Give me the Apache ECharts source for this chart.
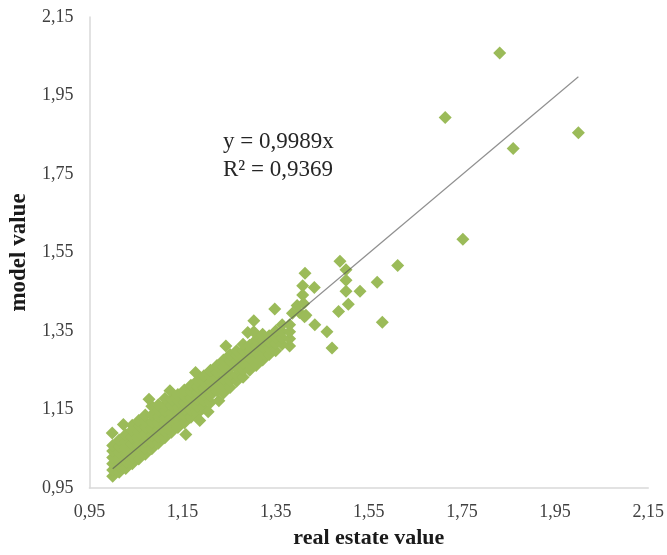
<!DOCTYPE html>
<html>
<head>
<meta charset="utf-8">
<script src="https://cdn.jsdelivr.net/npm/echarts@6/dist/echarts.min.js"></script>
<style>html,body{margin:0;padding:0;background:#fff}#c{width:667px;height:555px}</style>
</head>
<body>
<div id="c"></div>
<script>
// Dense cloud of observations (real estate value, model value)
const cloudPoints = [
[1.000,0.980],[1.000,0.996],[1.000,1.012],[1.000,1.028],[1.000,1.044],[1.000,1.058],[0.999,1.090],
[1.014,0.990],[1.014,1.006],[1.014,1.022],[1.014,1.040],[1.014,1.056],[1.014,1.072],
[1.028,1.000],[1.028,1.016],[1.028,1.034],[1.028,1.050],[1.028,1.068],[1.028,1.086],[1.023,1.112],
[1.042,1.012],[1.042,1.028],[1.042,1.046],[1.042,1.062],[1.042,1.080],[1.042,1.098],[1.042,1.110],
[1.056,1.024],[1.056,1.040],[1.056,1.058],[1.056,1.074],[1.056,1.092],[1.056,1.108],[1.056,1.122],
[1.070,1.036],[1.070,1.052],[1.070,1.070],[1.070,1.088],[1.070,1.104],[1.070,1.120],[1.070,1.136],
[1.084,1.050],[1.084,1.066],[1.084,1.084],[1.084,1.100],[1.084,1.118],[1.084,1.136],[1.084,1.158],[1.078,1.176],
[1.098,1.064],[1.098,1.080],[1.098,1.098],[1.098,1.114],[1.098,1.132],[1.098,1.148],[1.098,1.162],
[1.112,1.078],[1.112,1.094],[1.112,1.112],[1.112,1.128],[1.112,1.146],[1.112,1.162],[1.112,1.178],
[1.126,1.092],[1.126,1.108],[1.126,1.126],[1.126,1.142],[1.126,1.160],[1.126,1.176],[1.123,1.198],
[1.140,1.104],[1.140,1.122],[1.140,1.138],[1.140,1.156],[1.140,1.172],[1.140,1.188],
[1.154,1.116],[1.154,1.134],[1.154,1.150],[1.154,1.168],[1.154,1.184],[1.154,1.200],[1.157,1.086],
[1.168,1.130],[1.168,1.148],[1.168,1.164],[1.168,1.180],[1.168,1.196],[1.168,1.212],
[1.182,1.140],[1.182,1.158],[1.182,1.176],[1.182,1.192],[1.182,1.208],[1.182,1.224],[1.178,1.244],[1.187,1.122],
[1.196,1.154],[1.196,1.172],[1.196,1.188],[1.196,1.204],[1.196,1.220],[1.196,1.236],
[1.205,1.144],[1.210,1.168],[1.210,1.186],[1.210,1.202],[1.210,1.218],[1.210,1.234],[1.210,1.250],
[1.228,1.172],[1.224,1.198],[1.224,1.214],[1.224,1.230],[1.224,1.246],[1.224,1.262],
[1.238,1.192],[1.238,1.210],[1.238,1.226],[1.238,1.244],[1.238,1.260],[1.238,1.276],[1.243,1.312],
[1.252,1.206],[1.252,1.224],[1.252,1.240],[1.252,1.258],[1.252,1.274],[1.252,1.290],
[1.266,1.222],[1.266,1.238],[1.266,1.256],[1.266,1.272],[1.266,1.288],[1.266,1.300],
[1.280,1.232],[1.280,1.250],[1.280,1.268],[1.280,1.284],[1.280,1.300],[1.280,1.316],
[1.294,1.250],[1.294,1.266],[1.294,1.282],[1.294,1.298],[1.294,1.314],[1.290,1.346],
[1.308,1.262],[1.308,1.280],[1.308,1.296],[1.308,1.312],[1.308,1.328],[1.303,1.376],[1.303,1.348],
[1.322,1.276],[1.322,1.294],[1.322,1.310],[1.322,1.326],[1.322,1.342],
[1.336,1.290],[1.336,1.306],[1.336,1.322],[1.336,1.338],
[1.350,1.300],[1.350,1.318],[1.350,1.334],[1.350,1.350],[1.348,1.406],
[1.364,1.316],[1.364,1.332],[1.364,1.348],[1.364,1.366],
[1.380,1.312],[1.380,1.330],[1.380,1.348],[1.380,1.366],[1.386,1.395]
];
// Sparser observations above 1,38
const sparsePoints = [
[1.396,1.415],[1.401,1.397],[1.408,1.465],[1.408,1.442],[1.410,1.420],[1.413,1.497],
[1.415,1.390],[1.412,1.386],[1.433,1.461],[1.434,1.366],[1.460,1.348],[1.471,1.307],
[1.488,1.528],[1.501,1.506],[1.501,1.479],[1.501,1.451],[1.506,1.418],[1.485,1.400],
[1.531,1.451],[1.568,1.474],[1.612,1.517],[1.579,1.372]
];
// Outliers
const outlierPoints = [
[1.831,2.058],[1.714,1.894],[2.000,1.855],[1.860,1.815],[1.752,1.584]
];
// Linear trend line y = 0,9989x
const trendX = [1.0, 2.0];
const trendSlope = 0.9989;
const xTicks = ['0,95','1,15','1,35','1,55','1,75','1,95','2,15'];
const yTicks = ['0,95','1,15','1,35','1,55','1,75','1,95','2,15'];
const equationLines = ['y = 0,9989x', 'R² = 0,9369'];

const fmt = v => (Math.round(v * 100) / 100).toFixed(2).replace('.', ',');
const serif = '"Liberation Serif", "Times New Roman", serif';
const chart = echarts.init(document.getElementById('c'), null, {renderer: 'canvas'});
chart.setOption({
  backgroundColor: '#ffffff',
  animation: false,
  grid: {left: 89, right: 17, top: 17, bottom: 67, containLabel: false},
  xAxis: {
    type: 'value', min: 0.95, max: 2.15, interval: 0.2,
    name: 'real estate value', nameLocation: 'middle', nameGap: 39,
    nameTextStyle: {fontFamily: serif, fontWeight: 'bold', fontSize: 22, color: '#1a1a1a'},
    axisLine: {show: true, lineStyle: {color: '#d9d9d9', width: 1.5}},
    axisTick: {show: false},
    splitLine: {show: false},
    axisLabel: {fontFamily: serif, fontSize: 18, color: '#404040', margin: 15, formatter: fmt}
  },
  yAxis: {
    type: 'value', min: 0.95, max: 2.15, interval: 0.2,
    name: 'model value', nameLocation: 'middle', nameGap: 56, nameRotate: 90,
    nameTextStyle: {fontFamily: serif, fontWeight: 'bold', fontSize: 23, color: '#1a1a1a'},
    axisLine: {show: true, lineStyle: {color: '#d9d9d9', width: 1.5}},
    axisTick: {show: false},
    splitLine: {show: false},
    axisLabel: {fontFamily: serif, fontSize: 18, color: '#404040', margin: 16, formatter: fmt}
  },
  graphic: [
    {type: 'text', left: 223, top: 130, style: {text: equationLines[0], font: '23px ' + serif, fill: '#262626'}},
    {type: 'text', left: 223, top: 158, style: {text: equationLines[1], font: '23px ' + serif, fill: '#262626'}}
  ],
  series: [
    {type: 'scatter', symbol: 'diamond', symbolSize: 13, data: cloudPoints,
     itemStyle: {color: '#9bbb59', opacity: 1}, z: 2},
    {type: 'scatter', symbol: 'diamond', symbolSize: 13, data: sparsePoints,
     itemStyle: {color: '#9bbb59', opacity: 1}, z: 2},
    {type: 'scatter', symbol: 'diamond', symbolSize: 13, data: outlierPoints,
     itemStyle: {color: '#9bbb59', opacity: 1}, z: 2},
    {type: 'line', symbol: 'none', data: trendX.map(x => [x, x * trendSlope]),
     lineStyle: {color: '#555555', width: 1.2, opacity: 0.65}, z: 5}
  ]
});
</script>
</body>
</html>
